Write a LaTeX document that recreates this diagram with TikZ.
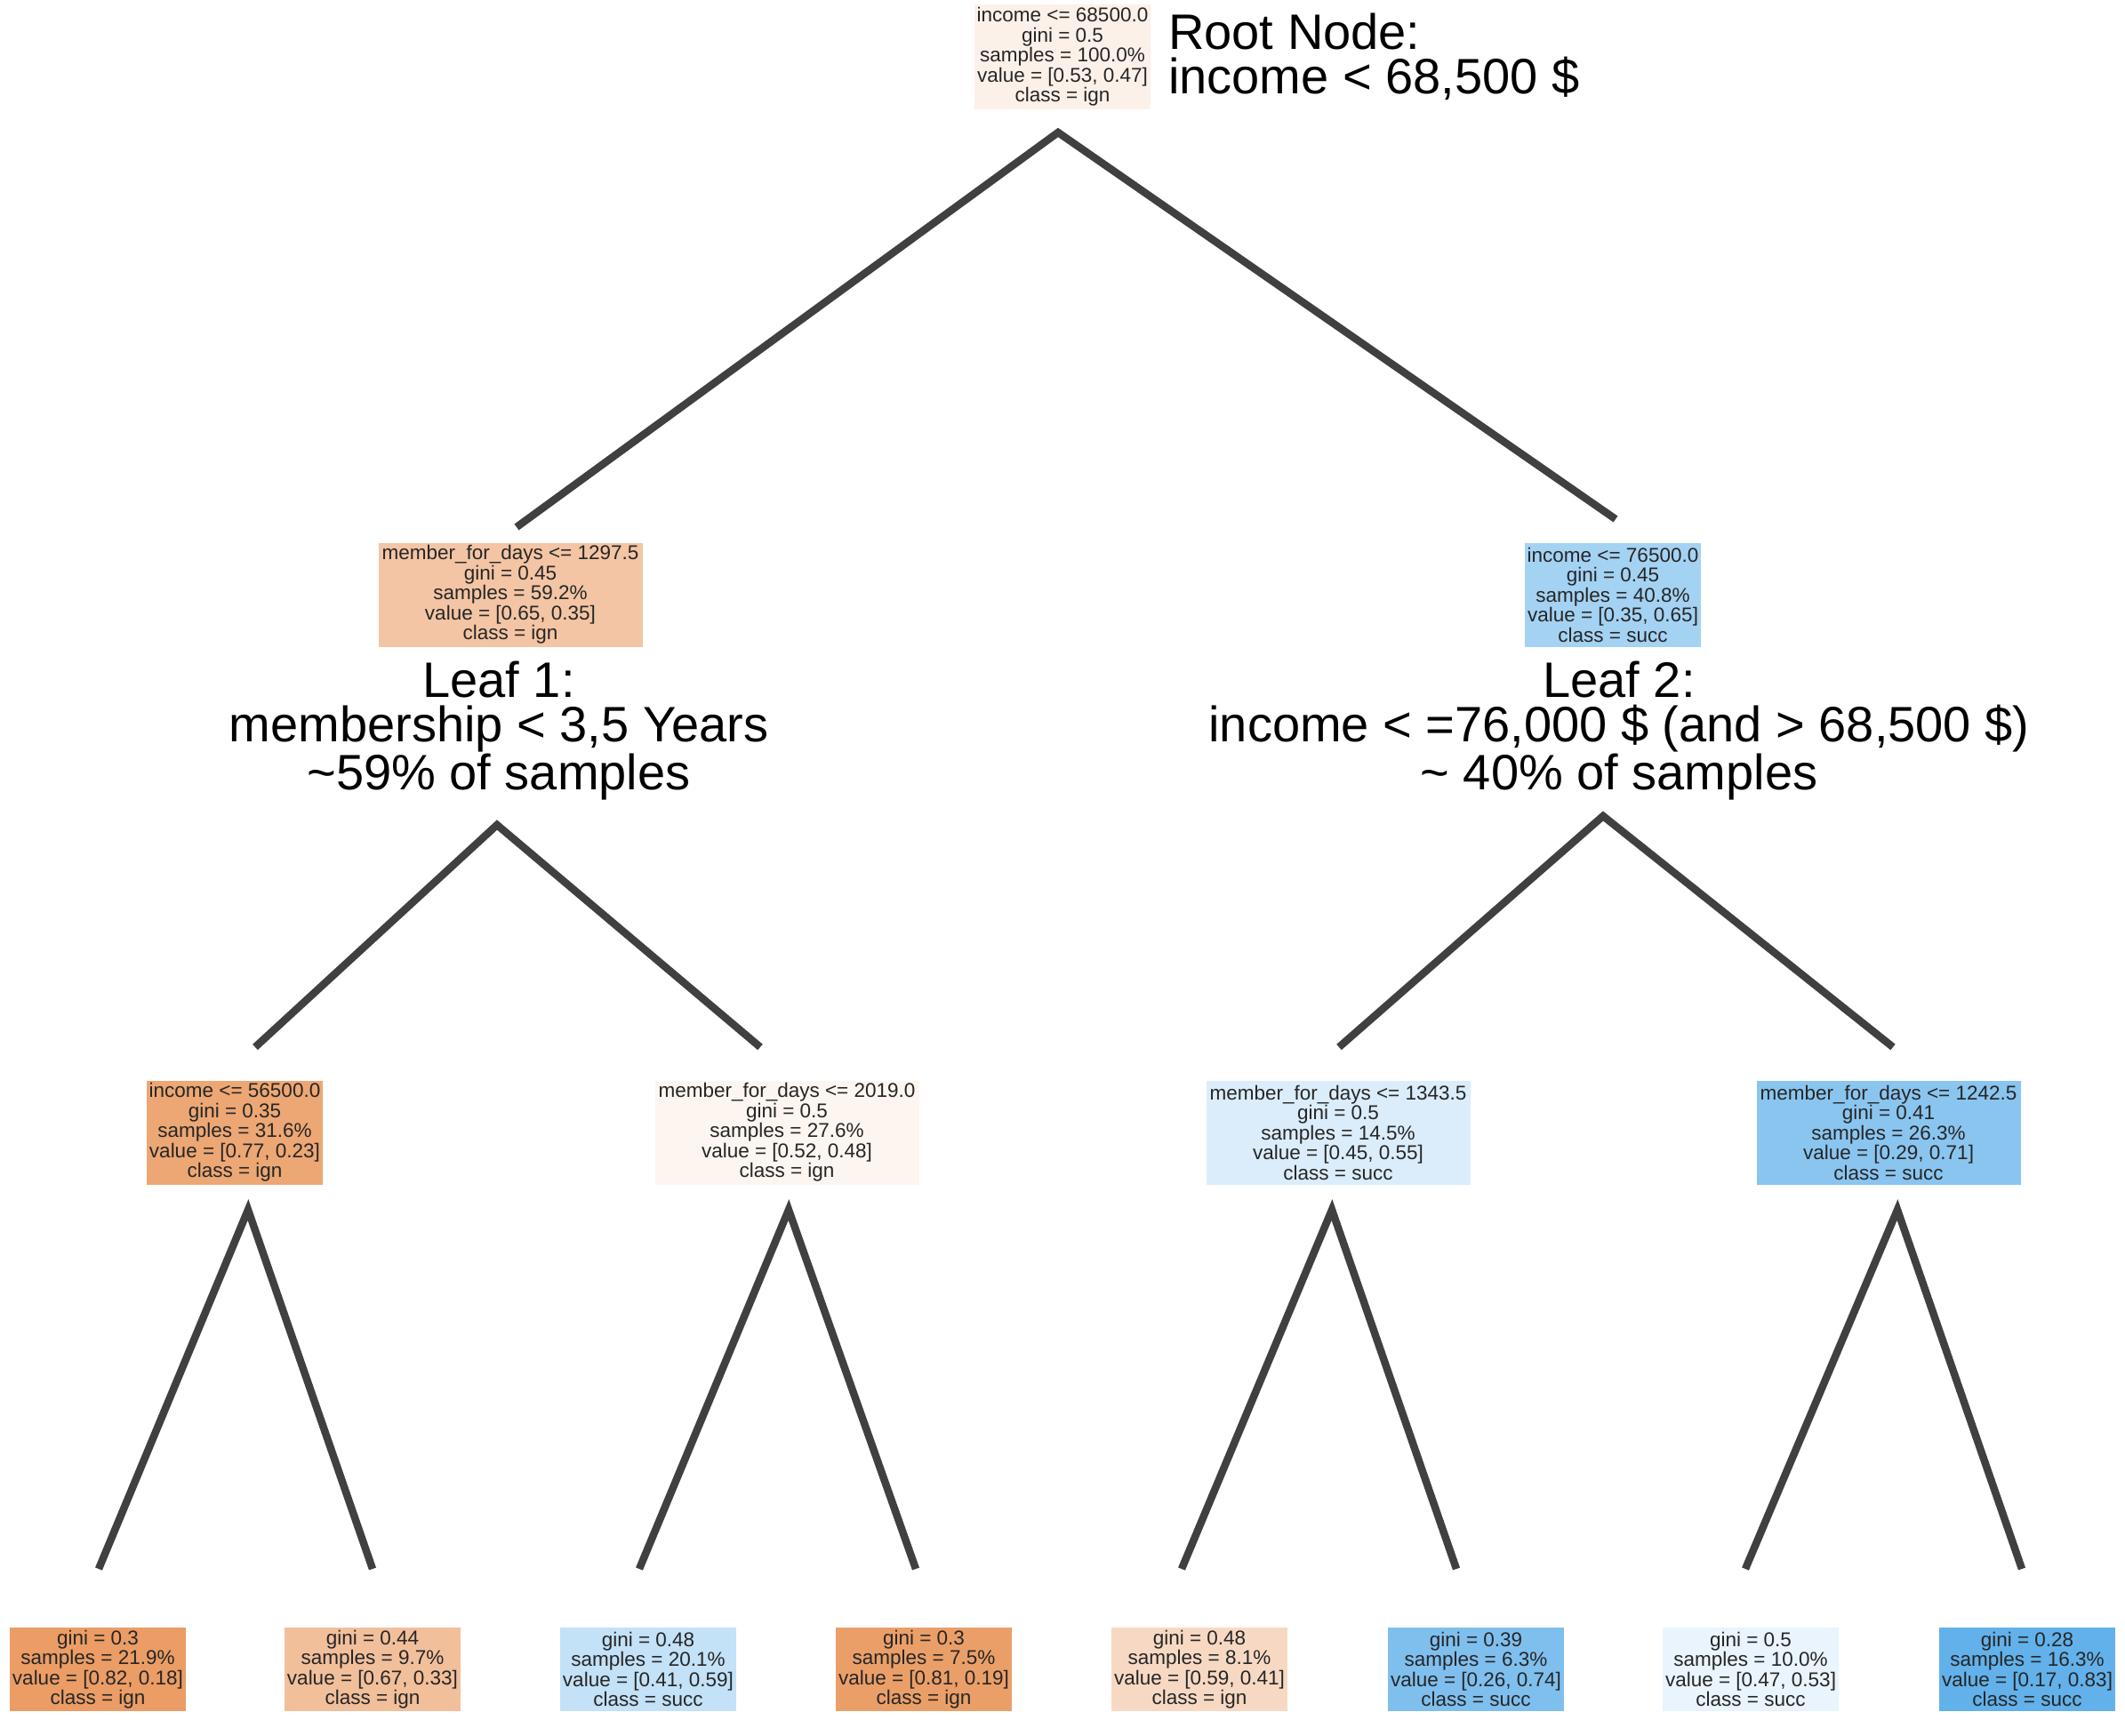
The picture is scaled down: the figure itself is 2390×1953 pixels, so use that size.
\documentclass[tikz,border=0pt]{standalone}
\usepackage{fontspec}
\setmainfont{Liberation Sans}
\definecolor{edgec}{HTML}{404040}
\definecolor{txt}{HTML}{262626}
\definecolor{c0}{RGB}{252,241,233}
\definecolor{c1}{RGB}{243,197,164}
\definecolor{c2}{RGB}{164,210,243}
\definecolor{cA}{RGB}{237,167,116}
\definecolor{cB}{RGB}{253,245,240}
\definecolor{cC}{RGB}{219,237,250}
\definecolor{cD}{RGB}{138,197,240}
\definecolor{cL1}{RGB}{235,157,101}
\definecolor{cL2}{RGB}{242,191,155}
\definecolor{cL3}{RGB}{195,225,247}
\definecolor{cL4}{RGB}{235,159,104}
\definecolor{cL5}{RGB}{247,217,195}
\definecolor{cL6}{RGB}{127,191,238}
\definecolor{cL7}{RGB}{233,244,252}
\definecolor{cL8}{RGB}{98,177,234}
\tikzset{
  tbox/.style={fill=#1, inner sep=0pt, align=center, text=txt,
    font=\fontsize{22.5}{22.5}\selectfont},
  narrowbox/.style={minimum width=198pt},
  widebox/.style={minimum width=297pt},
  midh/.style={minimum height=117pt},
  leafh/.style={minimum height=94pt},
  note/.style={inner sep=0pt, text=black, font=\fontsize{56}{50}\selectfont},
  edge/.style={draw=edgec, line width=8.5pt},
}
\begin{document}
\begin{tikzpicture}[x=1pt,y=-1pt]
\useasboundingbox (0,0) rectangle (2390,1953);

% root
\node[tbox=c0, narrowbox, minimum height=118pt] (root) at (1195,64)
  {income <= 68500.0\\gini = 0.5\\samples = 100.0\%\\value = [0.53, 0.47]\\class = ign};
\node[note, anchor=west, align=left] (rootnote) at (1314,64)
  {Root Node:\\income < 68,500 \$};

% level 1
\node[tbox=c1, widebox, midh] (n1) at (574,669)
  {member\_for\_days <= 1297.5\\gini = 0.45\\samples = 59.2\%\\value = [0.65, 0.35]\\class = ign};
\node[tbox=c2, narrowbox, midh] (n2) at (1814,669)
  {income <= 76500.0\\gini = 0.45\\samples = 40.8\%\\value = [0.35, 0.65]\\class = succ};
\node[note, align=center] (leafonenote) at (561,822)
  {Leaf 1:\\membership < 3,5 Years\\\textasciitilde59\% of samples};
\node[note, align=center] (leaftwonote) at (1821,822)
  {Leaf 2:\\income < =76,000 \$ (and > 68,500 \$)\\\textasciitilde{} 40\% of samples};

% level 2
\node[tbox=cA, narrowbox, midh] (nA) at (264,1274)
  {income <= 56500.0\\gini = 0.35\\samples = 31.6\%\\value = [0.77, 0.23]\\class = ign};
\node[tbox=cB, widebox, midh] (nB) at (885,1274)
  {member\_for\_days <= 2019.0\\gini = 0.5\\samples = 27.6\%\\value = [0.52, 0.48]\\class = ign};
\node[tbox=cC, widebox, midh] (nC) at (1505,1274)
  {member\_for\_days <= 1343.5\\gini = 0.5\\samples = 14.5\%\\value = [0.45, 0.55]\\class = succ};
\node[tbox=cD, widebox, midh] (nD) at (2124,1274)
  {member\_for\_days <= 1242.5\\gini = 0.41\\samples = 26.3\%\\value = [0.29, 0.71]\\class = succ};

% leaves
\node[tbox=cL1, narrowbox, leafh] (l1) at (110,1878)
  {gini = 0.3\\samples = 21.9\%\\value = [0.82, 0.18]\\class = ign};
\node[tbox=cL2, narrowbox, leafh] (l2) at (419,1878)
  {gini = 0.44\\samples = 9.7\%\\value = [0.67, 0.33]\\class = ign};
\node[tbox=cL3, narrowbox, leafh] (l3) at (729,1878)
  {gini = 0.48\\samples = 20.1\%\\value = [0.41, 0.59]\\class = succ};
\node[tbox=cL4, narrowbox, leafh] (l4) at (1039,1878)
  {gini = 0.3\\samples = 7.5\%\\value = [0.81, 0.19]\\class = ign};
\node[tbox=cL5, narrowbox, leafh] (l5) at (1349,1878)
  {gini = 0.48\\samples = 8.1\%\\value = [0.59, 0.41]\\class = ign};
\node[tbox=cL6, narrowbox, leafh] (l6) at (1660,1878)
  {gini = 0.39\\samples = 6.3\%\\value = [0.26, 0.74]\\class = succ};
\node[tbox=cL7, narrowbox, leafh] (l7) at (1969,1878)
  {gini = 0.5\\samples = 10.0\%\\value = [0.47, 0.53]\\class = succ};
\node[tbox=cL8, narrowbox, leafh] (l8) at (2280,1878)
  {gini = 0.28\\samples = 16.3\%\\value = [0.17, 0.83]\\class = succ};

% connector end points
\coordinate (root-out) at (1190,149);
\coordinate (n1-in) at (581,593);
\coordinate (n2-in) at (1817,584);
\coordinate (n1-out) at (559,928);
\coordinate (n2-out) at (1803,918);
\coordinate (nA-in) at (287,1178);
\coordinate (nB-in) at (855,1178);
\coordinate (nC-in) at (1506,1178);
\coordinate (nD-in) at (2129,1178);
\coordinate (nA-out) at (279,1361);
\coordinate (nB-out) at (887,1361);
\coordinate (nC-out) at (1498,1361);
\coordinate (nD-out) at (2134,1361);
\coordinate (l1-in) at (111,1765);
\coordinate (l2-in) at (419,1765);
\coordinate (l3-in) at (719,1765);
\coordinate (l4-in) at (1030,1765);
\coordinate (l5-in) at (1329,1765);
\coordinate (l6-in) at (1638,1765);
\coordinate (l7-in) at (1963,1765);
\coordinate (l8-in) at (2274,1765);

\draw[edge] (n1-in) -- (root-out) -- (n2-in);
\draw[edge] (nA-in) -- (n1-out) -- (nB-in);
\draw[edge] (nC-in) -- (n2-out) -- (nD-in);
\draw[edge] (l1-in) -- (nA-out) -- (l2-in);
\draw[edge] (l3-in) -- (nB-out) -- (l4-in);
\draw[edge] (l5-in) -- (nC-out) -- (l6-in);
\draw[edge] (l7-in) -- (nD-out) -- (l8-in);
\end{tikzpicture}
\end{document}
